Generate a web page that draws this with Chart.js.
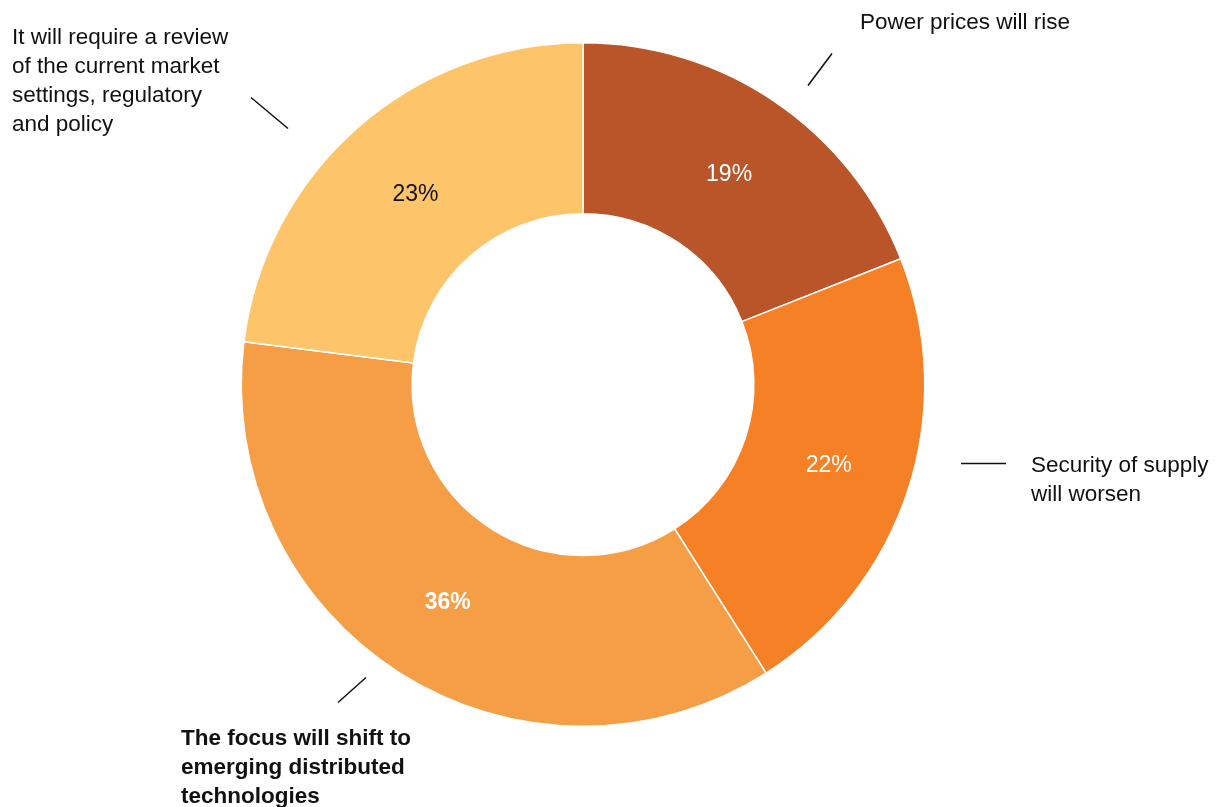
<!DOCTYPE html>
<html>
<head>
<meta charset="utf-8">
<script src="https://cdn.jsdelivr.net/npm/chart.js@4"></script>
<style>
  html, body { margin: 0; padding: 0; background: #fff; }
  #wrap { width: 1227px; height: 807px; position: relative; }
</style>
</head>
<body>
<div id="wrap"><canvas id="chart" width="1227" height="807"></canvas></div>
<script>
const categories = [
  'Power prices will rise',
  'Security of supply will worsen',
  'The focus will shift to emerging distributed technologies',
  'It will require a review of the current market settings, regulatory and policy'
];
const values = [19, 22, 36, 23];
const colors = ['#BA5529', '#F58025', '#F69E45', '#FDC46A'];
const valueTextColors = ['#ffffff', '#ffffff', '#ffffff', '#111111'];
const valueBold = [false, false, true, false];

// outside callouts: label lines, bold flag, leader line and text anchor as offsets from the centre
const callouts = [
  { lines: ['Power prices will rise'], bold: false, line: [225, -299, 249, -331], text: [277, -362] },
  { lines: ['Security of supply', 'will worsen'], bold: false, line: [378, 79, 423, 79], text: [448, 81] },
  { lines: ['The focus will shift to', 'emerging distributed', 'technologies'], bold: true, line: [-245, 318, -217, 293], text: [-402, 354] },
  { lines: ['It will require a review', 'of the current market', 'settings, regulatory', 'and policy'], bold: false, line: [-332, -287, -295, -256], text: [-571, -347] }
];

const FONT = '"Liberation Sans", Arial, sans-serif';

const labelPlugin = {
  id: 'labels',
  afterDatasetsDraw(chart) {
    const ctx = chart.ctx;
    const meta = chart.getDatasetMeta(0);
    const arc0 = meta.data[0];
    const cx = arc0.x, cy = arc0.y;
    ctx.save();
    ctx.textAlign = 'center';
    ctx.textBaseline = 'middle';
    meta.data.forEach((arc, i) => {
      const p = arc.getCenterPoint();
      ctx.fillStyle = valueTextColors[i];
      ctx.font = (valueBold[i] ? 'bold ' : '') + '23px ' + FONT;
      ctx.fillText(values[i] + '%', p.x + 2, p.y + 2);
    });
    ctx.strokeStyle = '#111';
    ctx.lineWidth = 1.5;
    ctx.textAlign = 'left';
    callouts.forEach(c => {
      ctx.beginPath();
      ctx.moveTo(cx + c.line[0], cy + c.line[1]);
      ctx.lineTo(cx + c.line[2], cy + c.line[3]);
      ctx.stroke();
      ctx.fillStyle = '#111';
      ctx.font = (c.bold ? 'bold ' : '') + '22.5px ' + FONT;
      c.lines.forEach((t, k) => {
        ctx.fillText(t, cx + c.text[0], cy + c.text[1] + k * 29);
      });
    });
    ctx.restore();
  }
};

new Chart(document.getElementById('chart').getContext('2d'), {
  type: 'doughnut',
  data: {
    labels: categories,
    datasets: [{
      data: values,
      backgroundColor: colors,
      borderColor: '#ffffff',
      borderWidth: 1.5
    }]
  },
  options: {
    responsive: false,
    animation: false,
    cutout: '50%',
    layout: { padding: { top: 42, bottom: 80, left: 0, right: 61 } },
    plugins: {
      legend: { display: false },
      tooltip: { enabled: false }
    }
  },
  plugins: [labelPlugin]
});
</script>
</body>
</html>
